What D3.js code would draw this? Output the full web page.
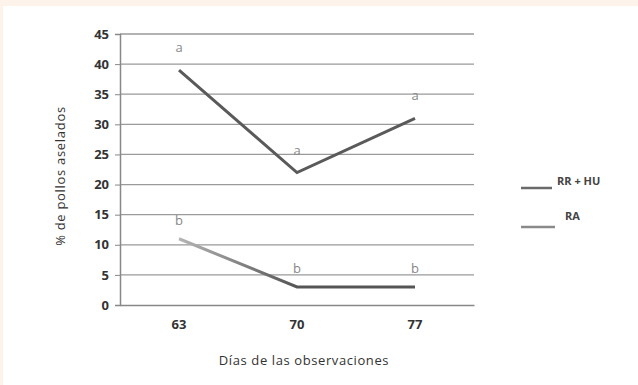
<!DOCTYPE html>
<html><head><meta charset="utf-8">
<script src="https://cdn.jsdelivr.net/npm/d3@7"></script>
<style>body{margin:0;background:#fff}svg{display:block}</style>
</head><body>
<svg id="c" width="638" height="385"></svg>
<script>
const days = ["63", "70", "77"];
const rrhu = [39, 22, 31];
const ra = [11, 3, 3];
const rrhuLetters = ["a", "a", "a"];
const raLetters = ["b", "b", "b"];
const yTicks = [0, 5, 10, 15, 20, 25, 30, 35, 40, 45];
const seriesNames = ["RR + HU", "RA"];

(function () {
const svg = d3.select("#c");
svg.append("rect").attr("width", 638).attr("height", 385).attr("fill", "#fdf3ea");
svg.append("rect").attr("x", 3).attr("y", 6).attr("width", 635).attr("height", 379).attr("fill", "#fff");

const pLeft = 120, pRight = 474, pTop = 34, pBottom = 305;
const x = d3.scaleBand().domain(days).range([pLeft, pRight]);
const y = d3.scaleLinear().domain([0, 45]).range([pBottom, pTop]);
const font = "'Open Sans', 'DejaVu Sans', sans-serif";

// grid
svg.append("g").selectAll("line").data(yTicks.filter(d => d > 0)).join("line")
  .attr("x1", pLeft).attr("x2", pRight)
  .attr("y1", d => y(d)).attr("y2", d => y(d))
  .attr("stroke", "#9a9a9a").attr("stroke-width", 1.3);

// axes
const ya = svg.append("g").attr("transform", `translate(${pLeft},0)`)
  .call(d3.axisLeft(y).tickValues(yTicks).tickSize(5).tickPadding(6));
ya.select(".domain").attr("stroke", "#888").attr("stroke-width", 1.5);
ya.selectAll(".tick line").attr("stroke", "#888");
ya.selectAll("text").attr("font-family", font).attr("font-size", 13).attr("font-weight", 700).attr("fill", "#333");

const xa = svg.append("g").attr("transform", `translate(0,${pBottom})`)
  .call(d3.axisBottom(x).tickSize(0).tickPadding(15));
xa.select(".domain").attr("stroke", "#888").attr("stroke-width", 1.5);
xa.selectAll("text").attr("font-family", font).attr("font-size", 13).attr("font-weight", 700).attr("fill", "#333");

const cx = d => x(d) + x.bandwidth() / 2;
const line = d3.line().x((d, i) => cx(days[i])).y(d => y(d));

const defs = svg.append("defs");
const g = defs.append("linearGradient").attr("id", "raGrad")
  .attr("gradientUnits", "userSpaceOnUse")
  .attr("x1", cx("63")).attr("x2", cx("70")).attr("y1", 0).attr("y2", 0);
g.append("stop").attr("offset", 0).attr("stop-color", "#b5b5b5");
g.append("stop").attr("offset", 1).attr("stop-color", "#555");

svg.append("path").datum(rrhu).attr("d", line).attr("fill", "none")
  .attr("stroke", "#5a5a5a").attr("stroke-width", 3);
svg.append("path").datum(ra).attr("d", line).attr("fill", "none")
  .attr("stroke", "url(#raGrad)").attr("stroke-width", 3);

// letters
svg.append("g").selectAll("text").data(rrhu).join("text")
  .attr("x", (d, i) => cx(days[i])).attr("y", d => y(d) - 18)
  .attr("text-anchor", "middle").attr("font-family", font).attr("font-size", 13)
  .attr("fill", "#888").text((d, i) => rrhuLetters[i]);
svg.append("g").selectAll("text").data(ra).join("text")
  .attr("x", (d, i) => cx(days[i])).attr("y", d => y(d) - 14)
  .attr("text-anchor", "middle").attr("font-family", font).attr("font-size", 13)
  .attr("fill", "#888").text((d, i) => raLetters[i]);

// axis titles
svg.append("text").attr("transform", `translate(65,176) rotate(-90)`)
  .attr("text-anchor", "middle").attr("font-family", font).attr("font-size", 13)
  .attr("letter-spacing", 0.7).attr("fill", "#333").text("% de pollos aselados");
svg.append("text").attr("x", 304).attr("y", 365)
  .attr("text-anchor", "middle").attr("font-family", font).attr("font-size", 13)
  .attr("letter-spacing", 0.6).attr("fill", "#333").text("Días de las observaciones");

// legend
const legLineY = [188, 227];
const legTextY = [185, 220];
const legX = [557, 565];
const legEnd = [552, 555];
const legCol = ["#6a6a6a", "#8a8a8a"];
seriesNames.forEach((n, i) => {
  svg.append("line").attr("x1", 521).attr("x2", legEnd[i])
    .attr("y1", legLineY[i]).attr("y2", legLineY[i]).attr("stroke", legCol[i]).attr("stroke-width", 2.5);
  svg.append("text").attr("x", legX[i]).attr("y", legTextY[i])
    .attr("font-family", font).attr("font-size", 11).attr("font-weight", 700)
    .attr("fill", "#444").text(n);
});
})();
</script>
</body></html>
